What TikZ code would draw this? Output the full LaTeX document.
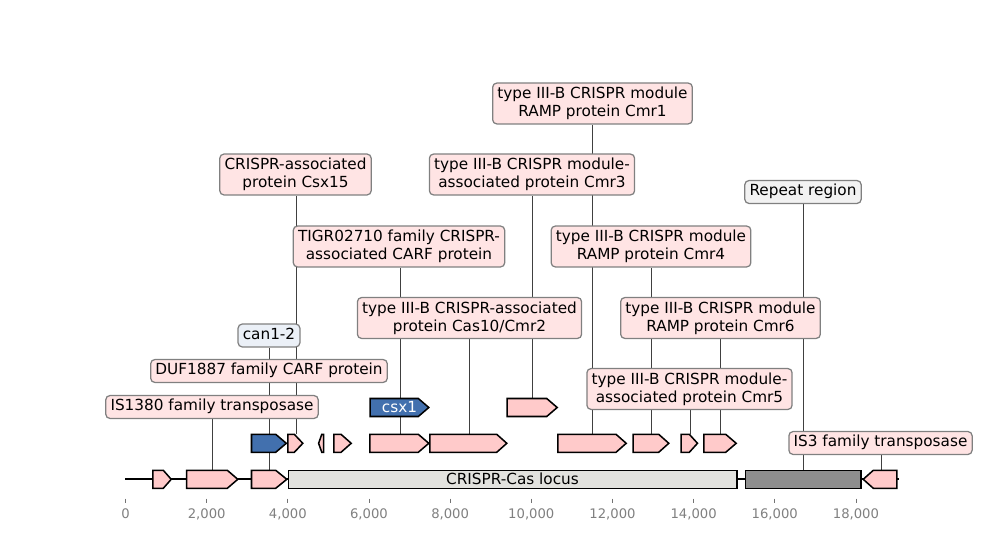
\documentclass[tikz,border=0pt]{standalone}
\usepackage{fontspec}
\setmainfont{DejaVu Sans}
\usetikzlibrary{calc,backgrounds}
\definecolor{genepink}{HTML}{FFCACA}
\definecolor{tagpink}{HTML}{FFE4E4}
\definecolor{csxblue}{HTML}{4270AE}
\definecolor{canblue}{HTML}{EBF0F7}
\definecolor{locusgray}{HTML}{E2E2DE}
\definecolor{repeatgray}{HTML}{8E8E8E}
\definecolor{repeattag}{HTML}{F2F2F2}
\tikzset{
  gene/.style={draw=black, line width=1.1pt, fill=genepink, line join=miter},
  tag/.style={draw=black!50, line width=0.9pt, rounded corners=3pt, fill=tagpink,
    font=\fontsize{11}{13.2}\selectfont, align=center, inner xsep=3.4pt, inner ysep=2.8pt},
  onetag/.style={tag, text height=8.2pt, text depth=2.7pt},
  leader/.style={draw=black!75, line width=0.65pt},
  tickmark/.style={draw=black!55, line width=0.6pt},
}
% forward gene: start, tip, end of body, row centre
\def\fgene[#1](#2:#3:#4:#5){\draw[gene,#1] (#2,#5-9) -- (#4,#5-9) -- (#3,#5) -- (#4,#5+9) -- (#2,#5+9) -- cycle;}
% reverse gene: tip, start of body, end, row centre
\def\rgene[#1](#2:#3:#4:#5){\draw[gene,#1] (#2,#5) -- (#3,#5-9) -- (#4,#5-9) -- (#4,#5+9) -- (#3,#5+9) -- cycle;}
\begin{document}
\begin{tikzpicture}[x=0.72pt, y=-0.72pt]
\useasboundingbox (0,0) rectangle (1000,560);

% tops of the features
\coordinate (tIS1380) at (212.3,470.3);
\coordinate (tCan) at (269.3,470.3);
\coordinate (tDUF) at (269.3,434.3);
\coordinate (tCsx15) at (296.3,434.3);
\coordinate (tTIGR) at (400.5,434.3);
\coordinate (tCas10) at (469.3,434.3);
\coordinate (tCmr3) at (532.3,398.5);
\coordinate (tCmr1) at (592.3,434.3);
\coordinate (tCmr4) at (651.3,434.3);
\coordinate (tCmr5) at (690.5,434.3);
\coordinate (tCmr6) at (720.3,434.3);
\coordinate (tRepeat) at (803.3,470.3);
\coordinate (tIS3) at (881.7,470.3);

% labels
\node[tag] (lCmr1) at (592.5,103.5) {type III-B CRISPR module\\RAMP protein Cmr1};
\node[tag] (lCsx15) at (295.5,174.5) {CRISPR-associated\\protein Csx15};
\node[tag] (lCmr3) at (532,174.5) {type III-B CRISPR module-\\associated protein Cmr3};
\node[onetag, fill=repeattag] (lRepeat) at (803,192) {Repeat region};
\node[tag] (lTIGR) at (399,246.5) {TIGR02710 family CRISPR-\\associated CARF protein};
\node[tag] (lCmr4) at (651,246.5) {type III-B CRISPR module\\RAMP protein Cmr4};
\node[tag] (lCas10) at (469.5,318) {type III-B CRISPR-associated\\protein Cas10/Cmr2};
\node[tag] (lCmr6) at (720.5,318) {type III-B CRISPR module\\RAMP protein Cmr6};
\node[onetag, fill=canblue] (lCan) at (269,335.5) {can1-2};
\node[onetag] (lDUF) at (269,371) {DUF1887 family CARF protein};
\node[onetag] (lIS1380) at (212,407) {IS1380 family transposase};
\node[tag] (lCmr5) at (689.5,389) {type III-B CRISPR module-\\associated protein Cmr5};
\node[onetag] (lIS3) at (880.5,443) {IS3 family transposase};

% sequence line and leaders, behind everything
\begin{pgfonlayer}{background}
\draw[line width=1.5pt] (125,479.3) -- (899,479.3);
\foreach \f/\l in {tIS1380/lIS1380, tCan/lCan, tDUF/lDUF, tCsx15/lCsx15, tTIGR/lTIGR,
    tCas10/lCas10, tCmr3/lCmr3, tCmr1/lCmr1, tCmr4/lCmr4, tCmr5/lCmr5, tCmr6/lCmr6,
    tRepeat/lRepeat, tIS3/lIS3}
  \draw[leader] (\f) -- (\f |- \l.south);
\end{pgfonlayer}

% row 0
\fgene[](152.8:171.2:163.3:479.3)
\fgene[](186.7:237.8:227.3:479.3)
\fgene[](251.5:286.8:275.7:479.3)
\draw[gene, fill=locusgray] (288.3,470.3) rectangle (736.8,488.3);
\node[font=\fontsize{11}{13.2}\selectfont] (locus) at (512.5,479.3) {CRISPR-Cas locus};
\draw[gene, fill=repeatgray] (745.5,470.3) rectangle (860.8,488.3);
\rgene[](863.2:873.3:896.8:479.3)

% row 1
\fgene[fill=csxblue](251.5:286.3:275.7:443.3)
\fgene[](287.8:302.8:294.3:443.3)
\rgene[](318.6:321.8:323.6:443.3)
\fgene[](333.8:351.2:341.0:443.3)
\fgene[](369.8:428.8:418.3:443.3)
\fgene[](429.8:506.8:496.7:443.3)
\fgene[](557.8:626.2:616.0:443.3)
\fgene[](633.2:668.8:658.7:443.3)
\fgene[](681.2:697.5:689.3:443.3)
\fgene[](703.8:736.2:725.7:443.3)

% row 2
\fgene[fill=csxblue](370.2:428.8:418.3:407.5)
\node[font=\fontsize{11}{13.2}\selectfont, text=white] (csx1) at (399.5,407.5) {csx1};
\fgene[](507.2:557.2:546.7:407.5)

% axis
\foreach \k/\lab in {0/0, 1/{2,000}, 2/{4,000}, 3/{6,000}, 4/{8,000}, 5/{10,000},
    6/{12,000}, 7/{14,000}, 8/{16,000}, 9/{18,000}}
  \draw[tickmark] (125.5+81.16*\k,498.5) -- (125.5+81.16*\k,502.5)
    node[below=0.5pt, text=black!50, font=\fontsize{9.5}{11}\selectfont] (tick\k) {\lab};
\end{tikzpicture}
\end{document}
